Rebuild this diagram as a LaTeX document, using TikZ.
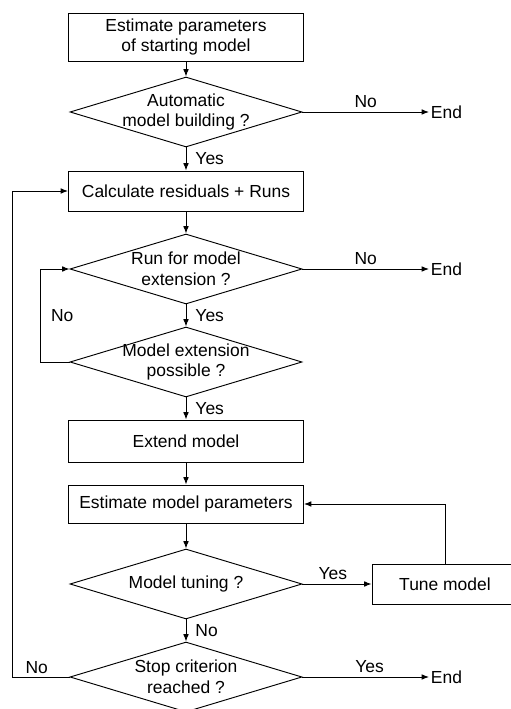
\documentclass[tikz,border=0pt]{standalone}
\usepackage{fontspec}
\setmainfont{Liberation Sans}
\usepackage{tikz}
\usetikzlibrary{shapes,arrows,arrows.meta,positioning,calc,shapes.geometric}
\newcommand{\flowfont}{\fontsize{14.9}{17.9}\selectfont}

\begin{document}
\begin{tikzpicture}[
    box/.style={draw, line width=0.8pt, font=\flowfont, align=center, minimum width=7.05cm, inner sep=2pt},
    decision/.style={draw, diamond, aspect=3.3, line width=0.8pt, font=\flowfont, align=center, minimum width=6.96cm, minimum height=2.1cm, inner sep=-0.4cm},
    endnode/.style={font=\flowfont, anchor=west, inner sep=1.5pt},
    lbl/.style={font=\flowfont, inner sep=2pt},
    conn/.style={-{Latex[length=2.2mm, width=1.7mm]}, line width=0.8pt}
]
    \useasboundingbox (0,0) rectangle (15.33,21.27);

    % Starting model
    \node[box, minimum height=1.44cm] (b_start) at (5.58,20.16) {Estimate parameters\\of starting model};
    \node[decision] (d_auto) at (5.58,17.91) {Automatic\\model building ?};
    \node[endnode] (e_auto) at (12.87,17.91) {End};

    % Residuals and runs test
    \node[box, minimum height=1.2cm] (b_resid) at (5.58,15.54) {Calculate residuals + Runs};
    \node[decision] (d_run) at (5.58,13.2) {Run for model\\extension ?};
    \node[endnode] (e_run) at (12.87,13.2) {End};
    \node[decision] (d_ext) at (5.58,10.41) {Model extension\\possible ?};
    \node[box, minimum height=1.26cm] (b_ext) at (5.58,8.04) {Extend model};

    % Estimation and tuning
    \node[box, minimum height=1.14cm] (b_est) at (5.58,6.15) {Estimate model parameters};
    \node[decision] (d_tune) at (5.58,3.75) {Model tuning ?};
    \node[box, minimum width=4.38cm, minimum height=1.2cm] (b_tune) at (13.35,3.75) {Tune model};
    \node[decision] (d_stop) at (5.58,0.96) {Stop criterion\\reached ?};
    \node[endnode] (e_stop) at (12.87,0.96) {End};

    % Loop columns
    \coordinate (c_outer) at (0.36,0);
    \coordinate (c_inner) at (1.2,0);

    % Main flow
    \draw[conn] (b_start) -- (d_auto);
    \draw[conn] (d_auto) -- node[lbl, right, xshift=0.2cm] (l_yes1) {Yes} (b_resid);
    \draw[conn] (d_auto) -- node[lbl, above, yshift=0.04cm] (l_no1) {No} (e_auto);
    \draw[conn] (b_resid) -- (d_run);
    \draw[conn] (d_run) -- node[lbl, right, xshift=0.2cm] (l_yes2) {Yes} (d_ext);
    \draw[conn] (d_run) -- node[lbl, above, yshift=0.04cm] (l_no2) {No} (e_run);
    \draw[conn] (d_ext) -- node[lbl, right, xshift=0.2cm] (l_yes3) {Yes} (b_ext);
    \draw[conn] (b_ext) -- (b_est);
    \draw[conn] (b_est) -- (d_tune);
    \draw[conn] (d_tune) -- node[lbl, above, pos=0.44, yshift=0.06cm] (l_yes4) {Yes} (b_tune);
    \draw[conn] (d_tune) -- node[lbl, right, xshift=0.2cm] (l_no3) {No} (d_stop);
    \draw[conn] (d_stop) -- node[lbl, above, pos=0.53, yshift=0.04cm] (l_yes5) {Yes} (e_stop);

    % Loops back
    \draw[conn] (d_ext.west) -- (d_ext.west -| c_inner) -- node[lbl, right, xshift=0.25cm] (l_no5) {No} (d_run.west -| c_inner) -- (d_run.west);
    \draw[conn] (b_tune.north) |- (b_est.east);
    \draw[conn] (d_stop.west) -- node[lbl, above, pos=0.57, yshift=0.02cm] (l_no4) {No} (d_stop.west -| c_outer) |- (b_resid.west);

\end{tikzpicture}
\end{document}
